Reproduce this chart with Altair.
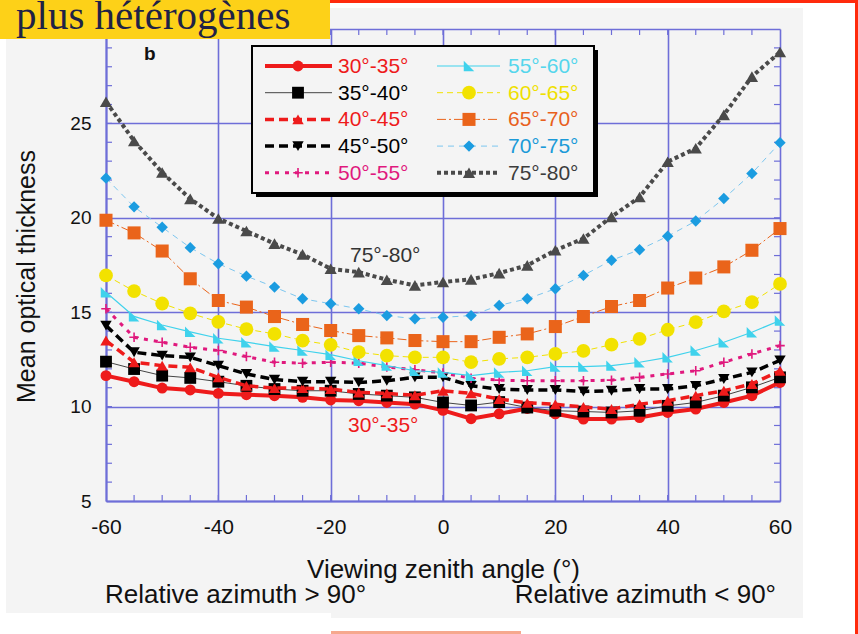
import altair as alt
import pandas as pd

# ---------------------------------------------------------------- data
angles = list(range(-60, 65, 5))  # viewing zenith angle (deg)

series_names = ["30°-35°", "35°-40°", "40°-45°", "45°-50°", "50°-55°",
                "55°-60°", "60°-65°", "65°-70°", "70°-75°", "75°-80°"]

tau_30_35 = [11.64, 11.32, 10.98, 10.88, 10.70, 10.63, 10.58, 10.49, 10.35, 10.31, 10.22, 10.13, 9.80,
             9.36, 9.62, 9.90, 9.62, 9.34, 9.34, 9.42, 9.69, 9.87, 10.22, 10.58, 11.28]
tau_35_40 = [12.38, 11.99, 11.64, 11.52, 11.32, 11.10, 10.93, 10.84, 10.84, 10.67, 10.58, 10.49, 10.22,
             10.06, 10.24, 9.95, 9.78, 9.74, 9.69, 9.78, 10.04, 10.22, 10.58, 11.02, 11.55]
tau_40_45 = [13.50, 12.35, 12.17, 12.08, 11.55, 11.10, 10.98, 10.98, 10.93, 10.75, 10.70, 10.60, 10.84,
             10.70, 10.40, 10.20, 10.12, 9.98, 9.87, 10.13, 10.31, 10.58, 10.84, 11.20, 11.90]
tau_45_50 = [14.29, 12.88, 12.70, 12.61, 12.17, 11.73, 11.43, 11.32, 11.32, 11.28, 11.37, 11.55, 11.55,
             11.10, 10.93, 10.88, 10.88, 10.80, 10.84, 10.93, 10.93, 11.10, 11.46, 11.81, 12.45]
tau_50_55 = [15.18, 13.67, 13.41, 13.14, 12.97, 12.65, 12.35, 12.30, 12.35, 12.30, 12.10, 11.95, 11.78,
             11.50, 11.40, 11.37, 11.37, 11.37, 11.40, 11.55, 11.73, 11.90, 12.35, 12.79, 13.23]
tau_55_60 = [16.06, 14.78, 14.32, 13.96, 13.62, 13.41, 13.18, 12.97, 12.75, 12.43, 12.17, 11.90, 11.81,
             11.64, 11.81, 11.90, 12.12, 12.12, 12.17, 12.35, 12.61, 12.97, 13.41, 13.94, 14.56]
tau_60_65 = [16.95, 16.12, 15.46, 14.94, 14.49, 14.10, 13.85, 13.50, 13.27, 12.88, 12.70, 12.61, 12.61,
             12.35, 12.53, 12.61, 12.79, 12.95, 13.28, 13.59, 14.07, 14.47, 15.04, 15.53, 16.50]
tau_65_70 = [19.87, 19.20, 18.24, 16.77, 15.62, 15.27, 14.77, 14.35, 14.03, 13.76, 13.64, 13.50, 13.44,
             13.44, 13.67, 13.85, 14.24, 14.77, 15.30, 15.62, 16.28, 16.81, 17.40, 18.28, 19.43]
tau_70_75 = [22.10, 20.58, 19.50, 18.42, 17.57, 16.91, 16.33, 15.71, 15.45, 15.18, 14.82, 14.65, 14.73,
             14.82, 15.36, 15.71, 16.24, 16.95, 17.75, 18.31, 19.02, 19.83, 21.02, 22.35, 23.98]
tau_75_80 = [26.15, 24.07, 22.40, 21.00, 19.96, 19.30, 18.63, 18.06, 17.30, 17.12, 16.72, 16.42, 16.60,
             16.74, 17.07, 17.48, 18.28, 18.90, 20.05, 21.10, 22.97, 23.68, 25.45, 27.48, 28.78]

series_values = [tau_30_35, tau_35_40, tau_40_45, tau_45_50, tau_50_55,
                 tau_55_60, tau_60_65, tau_65_70, tau_70_75, tau_75_80]

x_major = [-60, -40, -20, 0, 20, 40, 60]
x_minor = list(range(-55, 60, 5))
y_major = [5, 10, 15, 20, 25, 30]
y_minor = list(range(6, 30))

# ---------------------------------------------------------------- styles
RED = "#ee1b1b"
BLUE_GRID = "#6e6ed8"
SANS = "Liberation Sans"

PLUS = "M-1,0L1,0M0,-1L0,1"
RIGHT_TRI = "M-1,-1L-1,1L1,1Z"

styles = {
    "30°-35°": dict(color=RED, width=4.0, dash=None, shape="circle", size=120, text=RED),
    "35°-40°": dict(color="#000000", line="#444444", width=1.0, dash=None, shape="square", size=140, text="#000000"),
    "40°-45°": dict(color=RED, width=3.5, dash=[9, 5], shape="triangle-up", size=130, text=RED),
    "45°-50°": dict(color="#000000", width=3.5, dash=[9, 5], shape="triangle-down", size=130, text="#000000"),
    "50°-55°": dict(color="#e0197d", width=3.0, dash=[4, 6], shape=PLUS, size=90, text="#e0197d", hollow=True),
    "55°-60°": dict(color="#3fd2ec", width=1.2, dash=None, shape=RIGHT_TRI, size=110, text="#55d6ec"),
    "60°-65°": dict(color="#f2e200", width=1.0, dash=[6, 4], shape="circle", size=190, text="#efe000"),
    "65°-70°": dict(color="#ea641a", width=1.0, dash=[9, 3, 2, 3], shape="square", size=170, text="#e8601c"),
    "70°-75°": dict(color="#1b9ce0", line="#7cc6ef", width=1.0, dash=[6, 5], shape="diamond", size=130,
                    text="#1b9ad8"),
    "75°-80°": dict(color="#4a4a4a", width=4.0, dash=[4, 3], shape="triangle-up", size=150, text="#3c3c3c"),
}

# ---------------------------------------------------------------- geometry (page pixels)
W, H = 674, 472          # plot area
X0, Y0 = 106, 29         # plot origin on the page


def px(x):
    return x - X0


def py(y):
    return y - Y0


one = pd.DataFrame({"k": [0]})

xs = alt.Scale(domain=[-60, 60], nice=False, zero=False)
ys = alt.Scale(domain=[5, 30], nice=False, zero=False)

# plain hyphen-minus for negative tick labels; the top gridline (30) carries no label
x_axis = alt.Axis(values=x_major, grid=True, ticks=False, labelFontSize=21, labelPadding=15,
                  labelExpr="'' + datum.value",
                  labelFlush=False, labelOverlap=False, labelColor="#111111", labelFont=SANS,
                  domainColor=BLUE_GRID, domainWidth=2, gridColor=BLUE_GRID, gridWidth=1.6,
                  title="Viewing zenith angle (°)", titleFontSize=26, titleFont=SANS,
                  titleFontWeight="normal", titleColor="#111111", titleBaseline="alphabetic",
                  titleY=76)
y_axis = alt.Axis(values=y_major, grid=True, ticks=False, labelFontSize=19, labelPadding=15,
                  labelExpr="datum.value >= 30 ? '' : '' + datum.value",
                  labelFlush=False, labelOverlap=False, labelColor="#111111", labelFont=SANS,
                  domainColor=BLUE_GRID, domainWidth=2, gridColor=BLUE_GRID, gridWidth=1.6,
                  title="Mean optical thickness", titleFontSize=25, titleFont=SANS,
                  titleFontWeight="normal", titleColor="#111111", titleBaseline="alphabetic",
                  titleAlign="center", titleAngle=270, titleX=-72, titleY=247)


def X(field):
    return alt.X(field, scale=xs, axis=x_axis)


def Y(field):
    return alt.Y(field, scale=ys, axis=y_axis)


def rect(x1, x2, y1, y2, **kw):
    return alt.Chart(one).mark_rect(**kw).encode(
        x=alt.value(px(x1)), x2=alt.value(px(x2)), y=alt.value(py(y1)), y2=alt.value(py(y2)))


def label(txt, x, y, **kw):
    return alt.Chart(one).mark_text(text=txt, **kw).encode(x=alt.value(px(x)), y=alt.value(py(y)))


layers = []

# minor ticks on all four sides
xm = pd.DataFrame({"angle": x_minor})
ym = pd.DataFrame({"tau": y_minor})
tick_kw = dict(color=BLUE_GRID, strokeWidth=1.2)
layers.append(alt.Chart(xm).mark_rule(**tick_kw).encode(
    x=X("angle:Q"), y=alt.value(H), y2=alt.value(H - 6)))
layers.append(alt.Chart(xm).mark_rule(**tick_kw).encode(
    x=X("angle:Q"), y=alt.value(0), y2=alt.value(6)))
layers.append(alt.Chart(ym).mark_rule(**tick_kw).encode(
    y=Y("tau:Q"), x=alt.value(0), x2=alt.value(6)))
layers.append(alt.Chart(ym).mark_rule(**tick_kw).encode(
    y=Y("tau:Q"), x=alt.value(W - 6), x2=alt.value(W)))


def line_kw(st):
    kw = dict(color=st.get("line", st["color"]), strokeWidth=st["width"])
    if st["dash"]:
        kw["strokeDash"] = st["dash"]
    return kw


def point_kw(st):
    if st.get("hollow"):
        return dict(shape=st["shape"], size=st["size"], filled=False, color=st["color"],
                    strokeWidth=1.6, opacity=1)
    return dict(shape=st["shape"], size=st["size"], filled=True, color=st["color"], opacity=1)


# data series: line + markers
for name, vals in zip(series_names, series_values):
    st = styles[name]
    df = pd.DataFrame({"angle": angles, "tau": vals})
    enc = dict(x=X("angle:Q"), y=Y("tau:Q"))
    layers.append(alt.Chart(df).mark_line(**line_kw(st)).encode(**enc))
    layers.append(alt.Chart(df).mark_point(**point_kw(st)).encode(**enc))

# in-plot annotations
layers.append(label("75°-80°", 350, 262, align="left", baseline="alphabetic", fontSize=21,
                    font=SANS, color="#333333"))
layers.append(label("30°-35°", 348, 432, align="left", baseline="alphabetic", fontSize=21,
                    font=SANS, color=RED))
layers.append(label("b", 144, 60, align="left", baseline="alphabetic", fontSize=19,
                    font=SANS, fontWeight="bold", color="#111111"))

# legend box with drop shadow
layers.append(rect(256, 598, 50, 197, color="#000000"))
layers.append(rect(252, 594, 46, 193, fill="#f4f4f4", stroke="#000000", strokeWidth=2))

col_geom = [(265, 332, 298, 338), (437, 500, 469, 508)]
for i, name in enumerate(series_names):
    st = styles[name]
    x1, x2, xm_, xt = col_geom[i // 5]
    yy = 66 + (i % 5) * 26.7
    layers.append(alt.Chart(one).mark_rule(**line_kw(st)).encode(
        x=alt.value(px(x1)), x2=alt.value(px(x2)), y=alt.value(py(yy))))
    layers.append(alt.Chart(one).mark_point(**point_kw(st)).encode(
        x=alt.value(px(xm_)), y=alt.value(py(yy))))
    layers.append(label(name, xt, yy + 7, align="left", baseline="alphabetic", fontSize=21,
                        font=SANS, color=st["text"]))

# page surround: white margins, red rules, banner
layers.append(rect(0, 858, 0, 8, color="#ffffff"))
layers.append(rect(0, 6, 0, 634, color="#ffffff"))
layers.append(rect(803, 858, 0, 634, color="#ffffff"))
layers.append(rect(0, 331, 613, 634, color="#ffffff"))
layers.append(rect(331, 858, 618, 634, color="#ffffff"))
layers.append(rect(331, 521, 631, 634, color="#f6a88e"))
layers.append(rect(330, 858, 0, 3, color="#ff2a0c"))
layers.append(rect(855, 858, 0, 634, color="#ff2a0c"))
layers.append(rect(0, 330, 0, 39, color="#fdd118"))
layers.append(label("plus hétérogènes", 16, 29, align="left", baseline="alphabetic", fontSize=41,
                    font="Liberation Serif", color="#1f2246"))

# bottom captions
layers.append(label("Relative azimuth > 90°", 105, 603, align="left", baseline="alphabetic",
                    fontSize=26, font=SANS, color="#111111"))
layers.append(label("Relative azimuth < 90°", 776, 603, align="right", baseline="alphabetic",
                    fontSize=26, font=SANS, color="#111111"))

chart = alt.layer(*layers).properties(
    width=W, height=H,
    padding={"left": X0, "top": Y0, "right": 858 - X0 - W, "bottom": 634 - Y0 - H},
    autosize=alt.AutoSizeParams(type="none"),
    background="#f4f4f4",
).configure_view(stroke=None)

chart.save("out.html", embed_options={"renderer": "svg", "actions": False})
